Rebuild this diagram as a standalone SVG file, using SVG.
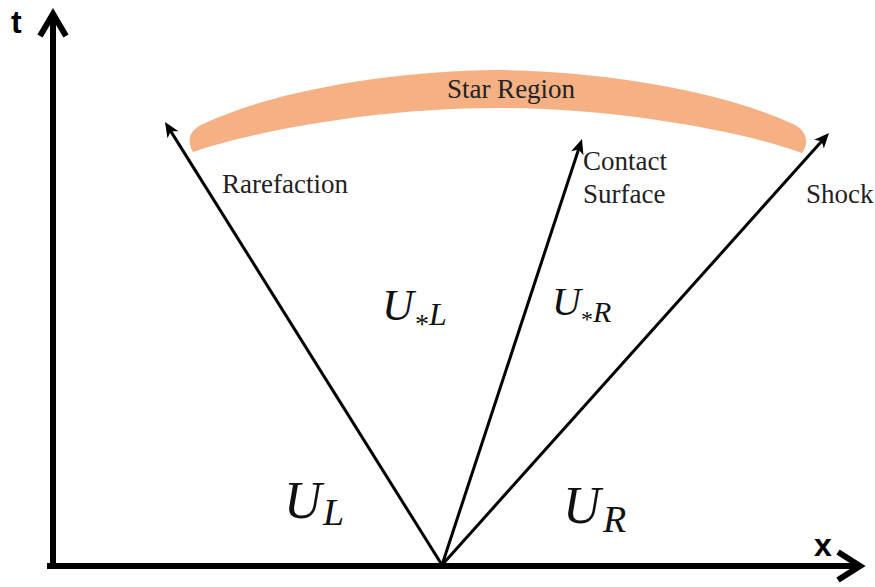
<svg xmlns="http://www.w3.org/2000/svg" width="875" height="587" viewBox="0 0 875 587">
<style>
.axis{stroke:#000;stroke-width:6;fill:none}
.ray{stroke:#000;stroke-width:3;fill:none}
.lbl{font-family:"Liberation Serif","DejaVu Serif",serif;font-size:27px;fill:#222}
.math{font-family:"Liberation Serif","DejaVu Serif",serif;font-style:italic;fill:#111}
.star{font-family:"Liberation Serif","DejaVu Serif",serif;fill:#111}
.ax{font-family:"Liberation Sans",Arial,sans-serif;font-weight:bold;fill:#000}
</style>
<defs>
<marker id="tip" markerUnits="userSpaceOnUse" viewBox="-17 -8 19 16" refX="-6" refY="0" markerWidth="19" markerHeight="16" orient="auto">
<path d="M0,0 L-15,-6.5 L-11,0 L-15,6.5 Z" fill="#000"/>
</marker>
</defs>
<rect width="875" height="587" fill="#fff"/>
<g id="star-region">
<path d="M193,152 C186,140 190,130 203,124 C280,88 400,71 497,70 C595,71 715,88 793,124 C806,130 810,142 802,153 C745,132 620,108 497,108 C375,108 250,132 193,152 Z" fill="#F5B083"/>
<text class="lbl" x="511" y="98" text-anchor="middle">Star Region</text>
</g>
<g id="axes">
<line class="axis" x1="53" y1="569" x2="53" y2="16"/>
<polyline class="axis" points="40,36 53,14 66,36"/>
<line class="axis" x1="47" y1="566" x2="858" y2="566"/>
<polyline class="axis" points="838,552 860,566 838,580"/>
<text class="ax" x="11" y="33" font-size="32">t</text>
<text class="ax" x="814" y="556" font-size="32">x</text>
</g>
<g id="connectors">
<line class="ray" x1="442" y1="565" x2="168.2" y2="127.1" marker-end="url(#tip)"/>
<line class="ray" x1="442" y1="565" x2="580.1" y2="144.7" marker-end="url(#tip)"/>
<line class="ray" x1="442" y1="565" x2="825" y2="137.5" marker-end="url(#tip)"/>
</g>
<g id="rarefaction">
<text class="lbl" x="222" y="193">Rarefaction</text>
</g>
<g id="contact">
<text class="lbl" x="583" y="170">Contact</text>
<text class="lbl" x="583" y="203">Surface</text>
</g>
<g id="shock">
<text class="lbl" x="806" y="203">Shock</text>
</g>
<g id="UL">
<text class="math" x="284" y="518" font-size="52">U</text>
<text class="math" x="323" y="525" font-size="38">L</text>
</g>
<g id="UR">
<text class="math" x="563" y="523" font-size="52">U</text>
<text class="math" x="603" y="532" font-size="38">R</text>
</g>
<g id="UsL">
<text class="math" x="382" y="320" font-size="44">U</text>
<text class="star" x="415" y="333" font-size="28">*</text>
<text class="math" x="429" y="325" font-size="32">L</text>
</g>
<g id="UsR">
<text class="math" x="552" y="315" font-size="40">U</text>
<text class="star" x="581" y="327" font-size="24">*</text>
<text class="math" x="593" y="322" font-size="30">R</text>
</g>
</svg>
